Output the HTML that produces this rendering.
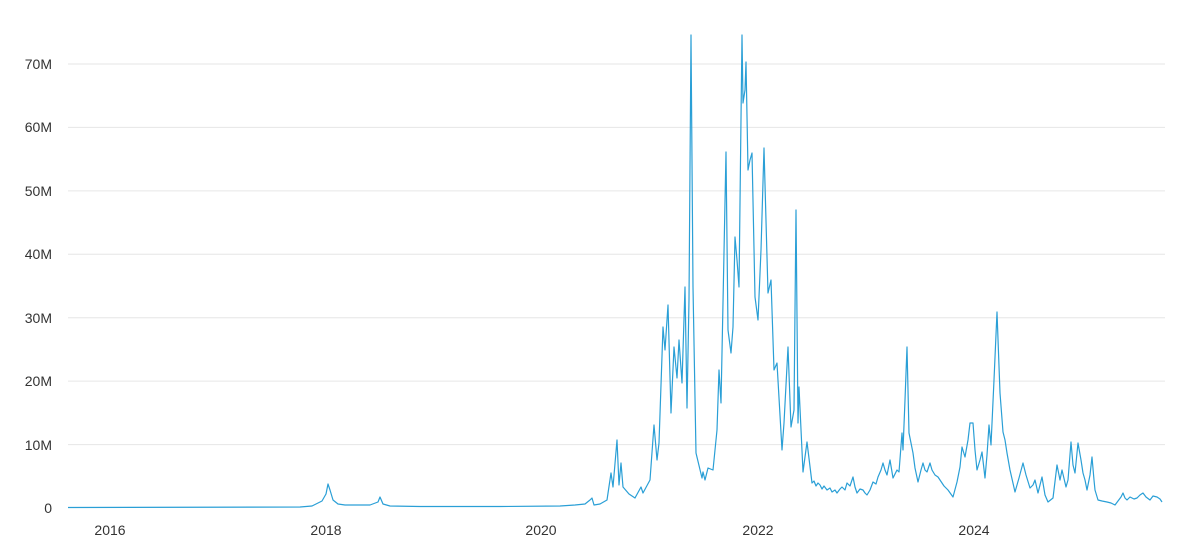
<!DOCTYPE html>
<html><head><meta charset="utf-8"><style>
html,body{margin:0;padding:0;background:#fff;}
svg{display:block;font-family:"Liberation Sans",sans-serif;}
</style></head><body>
<svg width="1200" height="556" viewBox="0 0 1200 556">
<g stroke="#e6e6e6" stroke-width="1">
<line x1="68" x2="1165" y1="64" y2="64"/>
<line x1="68" x2="1165" y1="127.4" y2="127.4"/>
<line x1="68" x2="1165" y1="190.9" y2="190.9"/>
<line x1="68" x2="1165" y1="254.3" y2="254.3"/>
<line x1="68" x2="1165" y1="317.7" y2="317.7"/>
<line x1="68" x2="1165" y1="381.1" y2="381.1"/>
<line x1="68" x2="1165" y1="444.6" y2="444.6"/>
</g>
<g fill="#333" font-size="14" text-anchor="end">
<text x="52" y="69">70M</text>
<text x="52" y="132">60M</text>
<text x="52" y="196">50M</text>
<text x="52" y="259">40M</text>
<text x="52" y="323">30M</text>
<text x="52" y="386">20M</text>
<text x="52" y="450">10M</text>
<text x="52" y="513">0</text>
</g>
<g fill="#333" font-size="14" text-anchor="middle">
<text x="110" y="535">2016</text>
<text x="326" y="535">2018</text>
<text x="541" y="535">2020</text>
<text x="758" y="535">2022</text>
<text x="974" y="535">2024</text>
</g>
<polyline fill="none" stroke="#2a9fd6" stroke-width="1.2" stroke-linejoin="round" points="68,507.5 300,507 312,506 318,503 322,501 326,494 328,484 330,490 333,500 338,504 345,505 370,505 378,502 380,497 383,504 390,506 420,506.5 500,506.5 560,506 575,505 585,504 590,500 592,498 594,505 600,504 607,500 611,473 613,487 617,440 619,485 621,463 623,487 629,494 635,498 641,487 643,493 650,480 654,425 657,460 659,443 663,327 665,350 668,305 671,413 674,347 677,378 679,340 682,383 685,287 687,408 689,300 691,35 693,287 696,453 702,478 703,472 705,480 708,468 713,470 717,430 719,370 721,403 726,152 728,330 731,353 733,327 735,237 737,260 739,287 742,35 743,103 745,90 746,62 748,170 750,160 752,153 755,297 758,320 761,250 764,148 768,293 771,280 774,370 777,363 782,450 784,423 788,347 791,427 794,410 796,210 798,423 799,387 803,472 807,442 812,483 814,481 816,486 818,483 820,485 822,489 824,486 827,490 830,488 832,492 835,490 837,493 840,489 842,487 845,490 847,483 850,486 853,477 855,487 857,493 860,489 863,490 865,493 867,495 870,490 873,482 876,484 878,477 881,470 883,463 885,470 887,475 890,460 893,478 895,474 897,470 899,472 902,433 903,450 905,400 907,347 909,433 913,453 915,468 918,482 921,470 923,463 925,470 927,472 930,463 932,470 935,475 938,477 940,480 944,486 948,490 953,497 957,482 960,467 962,447 965,457 968,440 970,423 973,423 975,450 977,470 980,460 982,452 985,478 987,455 989,425 991,445 994,380 997,312 1000,393 1003,432 1005,440 1007,453 1010,470 1015,492 1019,478 1023,463 1026,475 1030,488 1033,485 1035,480 1038,493 1042,477 1045,495 1048,502 1053,498 1057,465 1060,480 1062,470 1066,487 1068,480 1071,442 1073,465 1075,473 1078,443 1081,460 1083,473 1085,480 1087,490 1090,475 1092,457 1094,480 1095,490 1098,500 1102,501 1107,502 1111,503 1115,505 1118,501 1121,497 1123,493 1125,498 1127,500 1130,497 1134,499 1137,498 1140,495 1143,493 1146,497 1150,500 1153,496 1157,497 1160,499 1162,502"/>
</svg>
</body></html>
